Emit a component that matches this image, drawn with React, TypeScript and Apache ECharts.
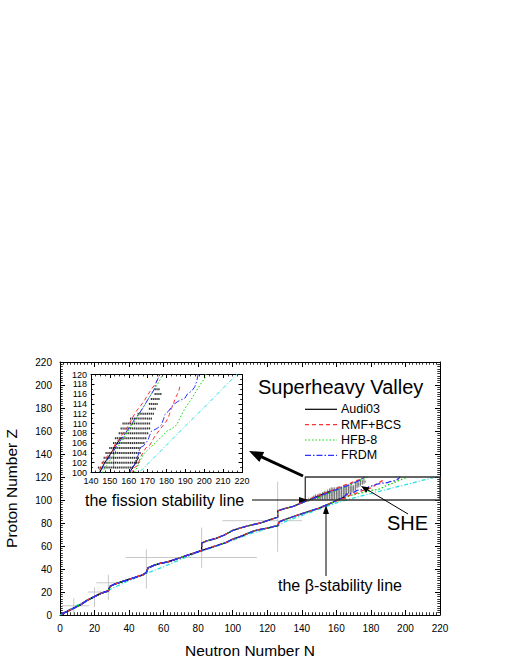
import React, { useEffect, useRef } from 'react';
import * as echarts from 'echarts';

// ---------- data ----------
// shared light-nuclei band (N, Z) - all models overlap here
const coreBand: number[][] = [
  [1, 1], [4, 3], [8, 6], [12, 9], [16, 13], [20, 16], [24, 19], [28, 21], [29, 25], [32, 27],
  [36, 29], [40, 31], [44, 33], [48, 35], [50, 37], [51, 41], [54, 43], [58, 45], [62, 46],
  [66, 48], [70, 50], [74, 52], [78, 54], [81, 55.5],
];
// fission-stability (upper) branch, N 82 .. 143
const upperMid: number[][] = [
  [82, 56], [82, 62.5], [85, 64.5], [90, 66.5], [95, 69.5], [100, 73.5], [104, 75.5], [110, 78],
  [116, 80], [120, 82], [124, 84], [126, 85], [126, 90.5], [130, 92.5], [135, 94.5], [140, 97.5], [142, 98.8],
];
// beta-stability (lower) branch, N 82 .. 158
const lowerMid: number[][] = [
  [84, 57], [88, 59], [92, 61], [96, 63], [100, 66], [104, 68], [108, 70.5], [112, 73], [116, 74.5],
  [120, 75.5], [124, 77], [126, 77.5], [127, 81], [130, 83], [134, 85], [138, 87], [142, 89], [146, 91],
  [150, 93], [154, 95.5], [158, 98],
];
// superheavy region, per model
const audiUpperSHE: number[][] = [[144.5, 100], [147, 101.8], [150, 103.6], [153, 105.5], [156, 107.2]];
const audiLowerSHE: number[][] = [[160, 99.8], [163, 101.5], [165, 103]];
const rmfUpperSHE: number[][] = [
  [144, 100], [145, 101], [147, 102.5], [149, 103.5], [151.5, 104.5], [153, 106], [155, 106.8], [157, 108],
  [159, 109], [161, 110.5], [162, 111.2], [164, 112.5], [166, 113.5], [168, 114.5], [170, 115.8], [172, 117],
  [174, 118], [175, 118.8], [176.5, 120],
];
const rmfLowerSHE: number[][] = [
  [161.5, 100], [163, 101], [165, 101.5], [166, 103], [167.5, 104], [169, 105], [171, 105.5], [172.5, 106.5],
  [174, 107.5], [176, 108.5], [178, 109.5], [180, 110.5], [181.5, 111.8], [182.5, 113], [183.5, 113.8],
  [184.5, 115], [185.5, 115.8], [186.5, 116.6], [187, 117.5],
];
const hfbUpperSHE: number[][] = [
  [146, 100], [148, 101.3], [150, 102.5], [152, 103.6], [154, 105], [156, 106.2], [158, 107.4], [160, 108.6],
  [162, 109.8], [164, 111], [166, 112.3], [168, 113.5], [170, 114.8], [172, 116], [174, 117.3], [176, 118.5], [178, 120],
];
const hfbLowerSHE: number[][] = [
  [163.2, 100.2], [165, 101.5], [167.6, 103.6], [169, 104.2], [171.1, 105], [174, 106], [176.5, 107], [178, 107.5],
  [180, 108.4], [183, 109], [185.3, 109.7], [187, 111], [188.9, 112.5], [190.5, 113.5], [192.4, 114.5],
  [194.5, 115.8], [196.8, 117.3], [198.5, 118.3], [200.4, 119.3], [201, 120.2],
];
const frdmUpperSHE: number[][] = [
  [145, 100], [146, 101], [148, 102.2], [150, 103.3], [152, 104.4], [154, 105.6], [156, 106.8], [158.5, 108.2],
  [161, 109.5], [163, 110.8], [165.5, 112], [168, 113.5], [170, 114.8], [172, 116], [173.5, 117], [174.5, 118.3],
  [175.5, 119.2], [176.5, 120],
];
const frdmLowerSHE: number[][] = [
  [160.5, 100], [161.5, 101], [163, 101.5], [164, 102.8], [165, 103.5], [165.8, 105], [168, 105.5], [170.3, 106.7],
  [171, 107.5], [172, 108.4], [175, 109], [177.3, 109.7], [178.5, 111], [179.1, 111.8], [181, 112.5],
  [183.5, 113.8], [186, 114.5], [189.8, 115.2], [191, 116], [193.3, 116.6], [195, 117.5], [196, 118.6],
  [196.5, 119.5], [196.8, 120.3],
];
// empirical beta-stability line (cyan)
const cyanLine: number[][] = [
  [0, 0], [4, 3.5], [10, 8.5], [20, 16], [30, 23], [40, 30], [50, 36], [60, 42], [70, 48.5], [80, 54.5],
  [90, 59.5], [100, 65], [110, 70.5], [120, 75], [126, 77.5], [130, 81], [140, 86.5], [150, 92], [160, 97.5],
  [166, 100.2], [180, 105.6], [190, 109.5], [200, 113.3], [210, 117.2], [218, 120.3],
];
// known superheavy nuclei rows: [Z, Nmin, Nmax]
const nucleiRows: number[][] = [
  [101, 144, 162], [102, 146, 165], [103, 147, 165], [104, 148, 166], [105, 150, 166], [106, 152, 168],
  [107, 153, 169], [108, 155, 170], [109, 156, 171], [110, 157, 171], [111, 161, 172], [112, 165, 173],
  [113, 171, 174], [114, 171, 175], [115, 172, 176], [116, 174, 177], [117, 174, 176],
];
// magic-number markers: vertical [N, Zfrom, Zto], horizontal [Z, Nfrom, Nto]
const magicVertical: number[][] = [[8, 0, 14.5], [20, 7, 24], [28, 13, 35], [50, 23, 57], [82, 41, 76], [126, 55, 116]];
const magicHorizontal: number[][] = [[8, 1, 17], [20, 16, 29], [28, 21, 36], [50, 38, 114], [82, 94, 140]];
const insetVertical: number[][] = [[152, 101, 105]];
// SHE box corners (N, Z)
const sheBox: number[][] = [[142, 100], [220, 100], [220, 120], [142, 120], [142, 100]];

const legendNames = ['Audi03', 'RMF+BCS', 'HFB-8', 'FRDM'];

const FONT = "'Liberation Sans', Arial, Helvetica, sans-serif";

const models = [
  { name: legendNames[0], color: '#000000', type: 'solid' as any, upper: audiUpperSHE, lower: audiLowerSHE, dash: [] as number[] },
  { name: legendNames[2], color: '#00dd00', type: [1.5, 2], upper: hfbUpperSHE, lower: hfbLowerSHE, dash: [1.5, 2] },
  { name: legendNames[1], color: '#ff3030', type: [4, 3], upper: rmfUpperSHE, lower: rmfLowerSHE, dash: [4, 3] },
  { name: legendNames[3], color: '#3030ff', type: [6, 2, 1.5, 2], upper: frdmUpperSHE, lower: frdmLowerSHE, dash: [6, 2, 1.5, 2] },
];

function axis(gridIndex: number, position: string, min: number, max: number, interval: number,
  showLabel: boolean, fontSize: number, tickLen: number, minorSplit: number, margin: number) {
  return {
    type: 'value', gridIndex, position, min, max, interval,
    axisLine: { show: true, onZero: false, lineStyle: { color: '#000', width: 1 } },
    axisTick: { show: true, inside: true, length: tickLen, lineStyle: { color: '#000', width: 1 } },
    minorTick: { show: true, splitNumber: minorSplit, length: tickLen * 0.55, lineStyle: { color: '#000', width: 0.8 } },
    splitLine: { show: false },
    minorSplitLine: { show: false },
    axisLabel: { show: showLabel, fontSize, color: '#000', fontFamily: FONT, margin, showMinLabel: true, showMaxLabel: true },
  };
}

function segSeries(data: number[][], xi: number, yi: number, color: string, width: number) {
  return {
    type: 'line', xAxisIndex: xi, yAxisIndex: yi, data, symbol: 'none', silent: true, z: 1,
    lineStyle: { color, width }, animation: false,
  };
}

export default function App() {
  const ref = useRef<HTMLDivElement>(null);
  useEffect(() => {
    const chart = echarts.init(ref.current!, null, { renderer: 'svg' });

    const nucleiPts: number[][] = [];
    nucleiRows.forEach(([z, a, b]) => { for (let n = a; n <= b; n++) nucleiPts.push([n, z]); });

    const series: any[] = [];
    magicVertical.forEach(([n, z0, z1]) => series.push(segSeries([[n, z0], [n, z1]], 0, 0, '#c8c8c8', 1)));
    magicHorizontal.forEach(([z, n0, n1]) => series.push(segSeries([[n0, z], [n1, z]], 0, 0, '#c8c8c8', 1)));
    insetVertical.forEach(([n, z0, z1]) => series.push(segSeries([[n, z0], [n, z1]], 2, 2, '#9a9a9a', 1)));

    // nuclei
    series.push({ type: 'scatter', xAxisIndex: 0, yAxisIndex: 0, data: nucleiPts, symbol: 'rect', symbolSize: [0.9, 2.4], itemStyle: { color: '#666' }, silent: true, z: 2 });
    series.push({ type: 'scatter', xAxisIndex: 2, yAxisIndex: 2, data: nucleiPts, symbol: 'rect', symbolSize: [1.3, 2], itemStyle: { color: '#000' }, silent: true, z: 2 });

    // cyan line
    [[0, 0, 1.3], [2, 2, 1]].forEach(([xi, yi, w]) => series.push({
      type: 'line', xAxisIndex: xi, yAxisIndex: yi, data: cyanLine, symbol: 'none', silent: true, z: 3,
      lineStyle: { color: '#22e0e0', width: w, type: [4, 2, 1, 2] },
    }));

    // model lines
    models.forEach((m, i) => {
      const up = [...coreBand, ...upperMid, ...m.upper];
      const lo = [...coreBand, ...lowerMid, ...m.lower];
      [[0, 0, 1.3], [2, 2, 1]].forEach(([xi, yi, w]) => {
        [up, lo].forEach((d) => series.push({
          type: 'line', name: m.name, xAxisIndex: xi, yAxisIndex: yi, data: d, symbol: 'none', silent: true,
          z: 4 + i, clip: true,
          lineStyle: { color: m.color, width: w, type: m.type },
        }));
      });
    });

    // SHE box
    series.push({ type: 'line', xAxisIndex: 0, yAxisIndex: 0, data: sheBox, symbol: 'none', silent: true, z: 9,
      lineStyle: { color: '#333', width: 1.3 } });

    const arrowHead = (pts: number[][]) => ({ type: 'polygon', z: 100, shape: { points: pts }, style: { fill: '#000' }, silent: true });
    const gText = (text: string, x: number, y: number, size: number, align = 'left') => ({
      type: 'text', x, y, z: 100, silent: true,
      style: { text, fontSize: size, fontFamily: FONT, fill: '#000', textAlign: align, textVerticalAlign: 'middle' },
    });

    const legendY = [409.3, 424.7, 440, 455.3];
    const legendOrder = [models[0], models[2], models[1], models[3]];
    const graphic: any[] = [
      gText('Superheavy Valley', 258, 387, 20),
      ...legendOrder.flatMap((m, i) => [
        { type: 'line', z: 100, silent: true, shape: { x1: 305, y1: legendY[i], x2: 337, y2: legendY[i] },
          style: { stroke: m.color, lineWidth: 1.2, lineDash: m.dash.length ? m.dash : null } },
        gText(m.name, 341, legendY[i], 12.5),
      ]),
      // thick arrow to inset
      { type: 'line', z: 100, silent: true, shape: { x1: 303, y1: 476, x2: 261, y2: 456.6 }, style: { stroke: '#000', lineWidth: 3 } },
      arrowHead([[249, 451], [264.2, 451.9], [259.4, 462]]),
      // fission stability line
      gText('the fission stability line', 85, 500, 16),
      { type: 'line', z: 100, silent: true, shape: { x1: 252, y1: 500, x2: 301, y2: 500 }, style: { stroke: '#000', lineWidth: 1 } },
      arrowHead([[308, 500], [299, 497], [299, 503]]),
      // beta stability line
      gText('the \u03b2-stability line', 278, 585, 16),
      { type: 'line', z: 100, silent: true, shape: { x1: 326, y1: 576, x2: 326, y2: 513 }, style: { stroke: '#000', lineWidth: 1 } },
      arrowHead([[326, 505], [323, 514], [329, 514]]),
      // SHE
      gText('SHE', 387, 523, 20),
      { type: 'line', z: 100, silent: true, shape: { x1: 408, y1: 514, x2: 367, y2: 489.5 }, style: { stroke: '#000', lineWidth: 1 } },
      arrowHead([[361, 486], [369.4, 487.6], [366.2, 492.8]]),
      // axis titles
      gText('Neutron Number N', 250, 650, 15.5, 'center'),
      { type: 'text', x: 11, y: 488.5, rotation: Math.PI / 2, z: 100, silent: true,
        style: { text: 'Proton Number Z', fontSize: 15.5, fontFamily: FONT, fill: '#000', textAlign: 'center', textVerticalAlign: 'middle' } },
    ];

    const option: any = {
      animation: false,
      backgroundColor: '#fff',
      grid: [
        { left: 60, top: 362, width: 380, height: 253, containLabel: false },
        { left: 91, top: 374.5, width: 151, height: 98, containLabel: false },
      ],
      xAxis: [
        axis(0, 'bottom', 0, 220, 20, true, 10, 5, 10, 8),
        axis(0, 'top', 0, 220, 20, false, 10, 5, 10, 8),
        axis(1, 'bottom', 140, 220, 10, true, 9, 3.5, 4, 4),
        axis(1, 'top', 140, 220, 10, false, 9, 3.5, 4, 4),
      ],
      yAxis: [
        axis(0, 'left', 0, 220, 20, true, 10, 5, 10, 8),
        axis(0, 'right', 0, 220, 20, false, 10, 5, 10, 8),
        axis(1, 'left', 100, 120, 2, true, 9, 3.5, 2, 4),
        axis(1, 'right', 100, 120, 2, false, 9, 3.5, 2, 4),
      ],
      series,
      graphic,
    };
    chart.setOption(option);
    return () => chart.dispose();
  }, []);
  return <div ref={ref} style={{ position: 'fixed', left: 0, top: 0, width: 510, height: 660, background: '#fff' }} />;
}
